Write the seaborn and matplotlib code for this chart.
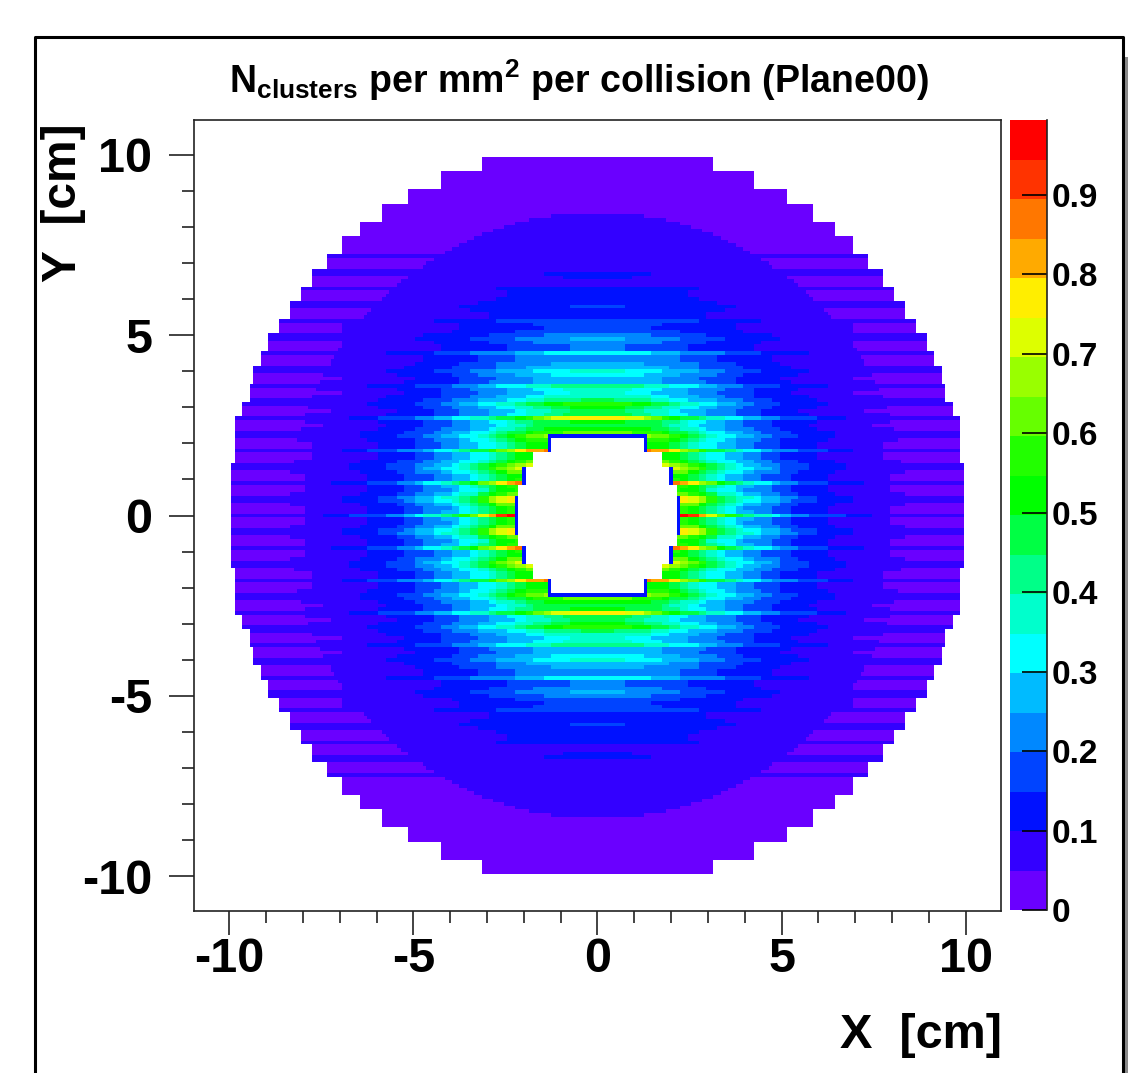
import numpy as np
import pandas as pd
import matplotlib
matplotlib.use("Agg")
import matplotlib.pyplot as plt
from matplotlib.colors import ListedColormap
from matplotlib.lines import Line2D
from matplotlib.patches import Rectangle
import seaborn as sns

# ---- values -----------------------------------------------------------
TITLE = r"$\mathbf{N_{clusters}}$ per mm$\mathbf{^{2}}$ per collision (Plane00)"
X_LABEL = "X  [cm]"
Y_LABEL = "Y  [cm]"
AXIS_TICKS = [-10, -5, 0, 5, 10]
AXIS_TICK_LABELS = ["-10", "-5", "0", "5", "10"]
MINOR_TICKS = [-9, -8, -7, -6, -4, -3, -2, -1, 1, 2, 3, 4, 6, 7, 8, 9]
CBAR_TICKS = [0, .1, .2, .3, .4, .5, .6, .7, .8, .9]
CBAR_LABELS = ["0", "0.1", "0.2", "0.3", "0.4", "0.5", "0.6", "0.7", "0.8", "0.9"]
Z_MAX = 0.994

PALETTE = ["#6a00ff", "#3300ff", "#0011ff", "#0044ff", "#0088ff", "#00bbff", "#00ffff",
           "#00ffcc", "#00ff88", "#00ff44", "#00ff00", "#22ff00", "#66ff00", "#99ff00",
           "#ddff00", "#ffee00", "#ffaa00", "#ff7700", "#ff3300", "#ff0000"]

# Disc outline: rows with |y| below OUTLINE_Y[i] reach out to |x| = OUTLINE_HW[i]
OUTLINE_Y = [9.94, 9.55, 9.05, 8.60, 8.16, 7.75, 7.25, 6.85, 6.35, 5.95, 5.45, 5.05,
             4.55, 4.15, 3.65, 3.15, 2.73, 2.23, 1.46]
OUTLINE_HW = [3.15, 4.25, 5.16, 5.80, 6.47, 6.96, 7.37, 7.77, 8.07, 8.37, 8.67, 8.97,
              9.16, 9.38, 9.47, 9.69, 9.80, 9.88, 9.99]
# White hole and the low-occupancy edge just around it
HOLE_Y = [2.15, 1.74, 1.34, 0.84]
HOLE_HW = [1.25, 1.75, 1.95, 2.16]
EDGE_Y = [2.22, 1.74, 1.34, 0.84, 0.50]
EDGE_HW = [1.35, 1.75, 2.05, 2.16, 2.27]
EDGE_VALUE = 0.11
# Outside the block table: the inner ring of the disc and the rim
OUTER_RING_EDGE = 8.4
OUTER_RING_VALUE = 5.5
RIM_VALUE = 4.9

# Occupancy (hundredths) per block, one quadrant: columns 0.25 cm wide, rows 0.45 cm tall
ROW_00 = [63, 63, 63, 63, 63, 63, 63, 63, 63, 63, 60, 54, 47, 40, 36, 31, 28, 25, 23, 21, 18, 16, 14.4, 12.7, 11.5, 10.9, 9.8, 8.6, 7.5, 6.9, 6.4, 6.2]
ROW_01 = [63, 63, 63, 63, 63, 63, 63, 63, 63, 62, 58, 52, 45, 39, 35, 31, 28, 25, 23, 21, 18, 16, 14.4, 12.7, 11.5, 10.9, 9.8, 8.6, 7.5, 6.9, 6.4, 6.2]
ROW_02 = [63, 63, 63, 63, 63, 63, 63, 63, 62, 60, 54, 48, 43, 37, 32, 30, 26, 24, 22, 20, 17, 15.5, 13.8, 12.7, 11.5, 10.4, 9.8, 8, 7.5, 6.7, 6.3, 6.2]
ROW_03 = [63, 63, 63, 63, 63, 63, 63, 60, 58, 54, 49, 43, 38, 34, 31, 28, 25, 23, 21, 18, 16, 15, 13.2, 12, 10.9, 10.4, 9.2, 8, 7.1, 6.4, 6.2]
ROW_04 = [63, 63, 63, 63, 62, 60, 58, 56, 52, 47, 43, 38, 34, 31, 28, 25, 23, 21, 19, 17, 15, 13.8, 12.7, 11.5, 10.4, 9.8, 8.6, 7.5, 6.7, 6.3, 6.1]
ROW_05 = [55, 55, 55, 54, 53, 52, 50, 47, 44, 40, 36, 33, 30, 28, 25, 23, 21, 19.5, 17, 15.5, 13.8, 12.7, 11.5, 10.9, 9.8, 9.2, 8, 6.9, 6.3, 6.1]
ROW_06 = [50, 50, 50, 49, 47, 44, 41, 39, 36, 33, 31, 29, 26, 24, 23, 21, 19, 17, 15.5, 13.8, 12.7, 12, 10.9, 10.4, 9.2, 8, 6.9, 6.3, 6]
ROW_07 = [40, 40, 39, 38, 37, 36, 33, 32, 30, 29, 26, 25, 23, 22, 20, 18, 17, 15, 13.8, 12.7, 11.5, 10.9, 10.4, 9.2, 8, 7.5, 6.3, 6]
ROW_08 = [32, 32, 32, 31, 30, 29, 28, 26, 25, 24, 23, 22, 21, 18, 17, 16, 14.4, 13.8, 12, 11.5, 10.9, 10.4, 9.2, 8, 7.5, 6.3, 6, 5.8]
ROW_09 = [26, 26, 26, 25, 25, 24, 24, 23, 22, 21, 20, 18, 17, 16, 15, 13.8, 12.7, 11.5, 10.9, 10.4, 9.8, 8.6, 8, 6.9, 6.3, 6, 5.8, 5.6]
ROW_10 = [22, 22, 22, 21, 21, 21, 20, 19, 18, 17, 16, 15, 14.4, 13.8, 12.7, 12, 11.5, 10.4, 9.8, 9.2, 8, 7.5, 6.9, 6.3, 6, 5.8, 5.6, 5.6]
ROW_11 = [18, 18, 18, 17, 17, 16.7, 16, 15.5, 15, 13.8, 13.8, 12.7, 12, 11.5, 10.9, 10.4, 9.8, 9.2, 8.6, 7.5, 6.9, 6.3, 6, 5.8, 5.6, 5.6, 5.6, 5.6]
ROW_12 = [14.4, 14.4, 14.4, 13.8, 13.8, 13.8, 13.2, 12.7, 12, 12, 11.5, 10.9, 10.4, 10.4, 9.8, 9.2, 8, 7.5, 6.9, 6.3, 6, 5.8, 5.7]
ROW_13 = [12, 12, 12, 11.8, 11.5, 11.5, 11.3, 11.1, 10.8, 10.6, 10.2, 9.8, 9.4, 9, 8.3, 7.7, 7.1, 6.7, 6, 5.8, 5.7]
ROW_14 = [10.4, 10.4, 10.4, 10.1, 9.9, 9.7, 9.4, 9.2, 8.7, 8.5, 8, 7.7, 7.2, 6.9, 6.4, 6, 5.8, 5.7, 5.6]
ROW_15 = [8, 8, 8, 7.9, 7.7, 7.5, 7.2, 6.9, 6.7, 6.4, 6.2, 6, 5.8, 5.7, 5.6, 5.5]
BLOCKS = [ROW_00, ROW_01, ROW_02, ROW_03, ROW_04, ROW_05, ROW_06, ROW_07,
          ROW_08, ROW_09, ROW_10, ROW_11, ROW_12, ROW_13, ROW_14, ROW_15]

# Brightness of every 0.1 cm row for y >= 0 relative to its block (strips every 0.9 cm)
ROW_GAIN = [1.55, .90, .88, 1.00, 1.22, 1.25, 1.00, .88, .90,
            1.40, .90, .88, 1.00, 1.15, 1.18, 1.00, .90, .90,
            1.45, .90, .90, .98, 1.10, 1.12, .98, .90, .92,
            1.50, .92, .90, 1.00, 1.15, 1.12, .98, .90, .92,
            1.35, .92, .90, 1.00, 1.12, 1.10, 1.00, .92, .92,
            1.45, .92, .92, 1.00, 1.15, 1.20, 1.00, .92, .95,
            1.35, .95, .95, 1.00, 1.08, 1.08, 1.00, .95, .95,
            1.25, .95, .95, 1.00, 1.05, 1.05, 1.00, .98, .98,
            1.10]

# ---- build the histogram -----------------------------------------------
centres = [round(-11 + 0.1 * i, 1) for i in range(221)]
Z = np.full((221, 221), np.nan)
for i, y in enumerate(centres[::-1]):
    ay = abs(y)
    out = [h for t, h in zip(OUTLINE_Y, OUTLINE_HW) if ay <= t]
    if not out:
        continue
    hw = out[-1]
    hole = [h for t, h in zip(HOLE_Y, HOLE_HW) if ay <= t]
    edge = [h for t, h in zip(EDGE_Y, EDGE_HW) if ay <= t]
    k = int(round(ay * 10))
    gain = ROW_GAIN[k] if k < len(ROW_GAIN) else 1.0
    row = BLOCKS[int(ay / 0.45)] if ay < 7.2 else []
    for j, x in enumerate(centres):
        ax_ = abs(x)
        if ax_ > hw:
            continue
        if hole and ax_ < hole[-1]:
            continue
        if edge and ax_ < edge[-1]:
            Z[i, j] = EDGE_VALUE
            continue
        c = int(ax_ / 0.25)
        if c < len(row):
            val = row[c]
        else:
            val = OUTER_RING_VALUE if np.hypot(x, y) < OUTER_RING_EDGE else RIM_VALUE
        Z[i, j] = val * gain / 100.0

df = pd.DataFrame(Z, index=centres[::-1], columns=centres)

# ---- draw ---------------------------------------------------------------
plt.rcParams["font.family"] = ["Liberation Sans", "DejaVu Sans"]
plt.rcParams["font.weight"] = "bold"
plt.rcParams["mathtext.fontset"] = "custom"
plt.rcParams["mathtext.bf"] = "Liberation Sans:bold"
plt.rcParams["mathtext.rm"] = "Liberation Sans:bold"
plt.rcParams["mathtext.default"] = "bf"

W, H = 1128, 1073
fig = plt.figure(figsize=(W / 100, H / 100), dpi=100, facecolor="white")


def box(l, t, r, b):
    return [l / W, 1 - b / H, (r - l) / W, (b - t) / H]


ax = fig.add_axes(box(194, 120, 1001, 911))
cax = fig.add_axes(box(1010, 120, 1047, 910))

sns.heatmap(df, ax=ax, cbar_ax=cax, cmap=ListedColormap(PALETTE), vmin=0, vmax=Z_MAX,
            xticklabels=False, yticklabels=False, cbar=True)
to_x = lambda v: (v + 11) * 10 + 0.5
to_y = lambda v: (11 - v) * 10 + 0.5
ax.set_xlim(to_x(-10.96), to_x(10.96))
ax.set_ylim(to_y(-10.97), to_y(10.97))
ax.set_xlabel("")
ax.set_ylabel("")

ax.set_xticks([to_x(v) for v in AXIS_TICKS])
ax.set_xticklabels(AXIS_TICK_LABELS, fontsize=35, fontweight="bold", rotation=0)
ax.set_yticks([to_y(v) for v in AXIS_TICKS])
ax.set_yticklabels(AXIS_TICK_LABELS, fontsize=35, fontweight="bold", rotation=0, va="center_baseline")
ax.set_xticks([to_x(v) for v in MINOR_TICKS], minor=True)
ax.set_yticks([to_y(v) for v in MINOR_TICKS], minor=True)
ax.tick_params(axis="x", which="major", length=17, width=1.2, color="#222222", pad=2)
ax.tick_params(axis="y", which="major", length=18, width=1.2, color="#222222", pad=12)
ax.tick_params(axis="both", which="minor", length=8.5, width=1.2, color="#222222")
for s in ax.spines.values():
    s.set_visible(True)
    s.set_linewidth(1.2)
    s.set_color("#222222")

cb = ax.collections[0].colorbar
cb.outline.set_visible(False)
cb.set_ticks(CBAR_TICKS)
cb.set_ticklabels(CBAR_LABELS, fontsize=24, fontweight="bold")
cb.ax.minorticks_off()
cax.tick_params(axis="y", direction="in", length=18, width=1.2, color="black", pad=3, right=True)
cax.spines["right"].set_visible(True)
cax.spines["right"].set_linewidth(1.2)
cax.spines["right"].set_color("#222222")

# Title and axis titles
fig.text(579 / W, 1 - 80 / H, TITLE, ha="center", va="center", fontsize=27, fontweight="bold")
fig.text(1002 / W, 1 - 1035 / H, X_LABEL, ha="right", va="center", fontsize=35, fontweight="bold")
fig.text(63 / W, 1 - 123 / H, Y_LABEL, ha="center", va="top", rotation=90, fontsize=34.5, fontweight="bold")

# Page frame
fig.add_artist(Rectangle((1124 / W, 0), 4 / W, 1 - 57 / H, transform=fig.transFigure,
                         facecolor="#8a8a8a", edgecolor="none"))
fig.add_artist(Line2D([34.5 / W, 34.5 / W, 1122.5 / W, 1122.5 / W], [0, 1 - 37 / H, 1 - 37 / H, 0],
                      transform=fig.transFigure, color="black", lw=2.2, solid_joinstyle="round"))

fig.savefig("out.png", dpi=100)
